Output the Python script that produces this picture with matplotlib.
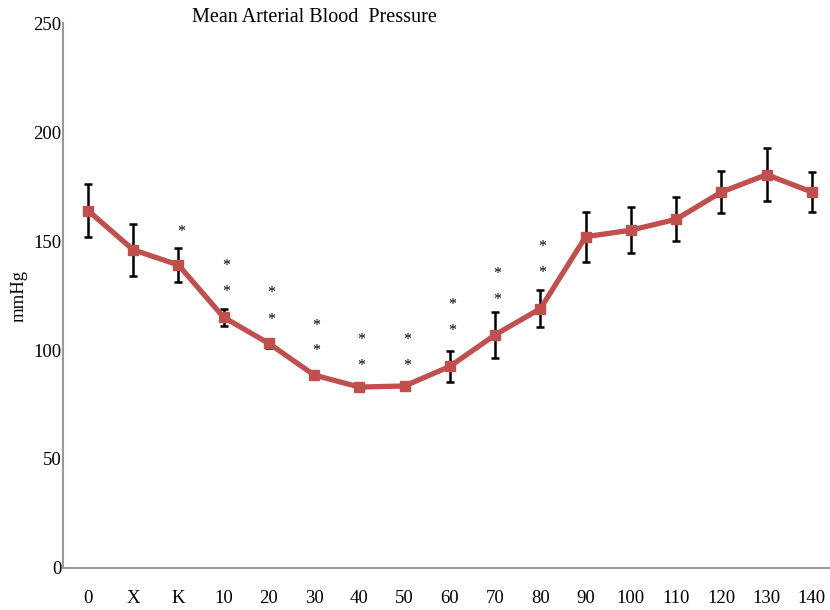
import matplotlib
matplotlib.use("Agg")
import matplotlib.pyplot as plt

# Data
labels = ["0", "X", "K", "10", "20", "30", "40", "50", "60", "70", "80",
          "90", "100", "110", "120", "130", "140"]
mean_bp = [164, 146, 139, 115, 103, 88.5, 83, 83.5, 92.5, 107, 119,
           152, 155, 160, 172.5, 180.5, 172.5]
err_bp = [12, 12, 8, 4, 2, 2, 2, 1.5, 7, 10.5, 8.5,
          11.5, 10.5, 10, 9.5, 12, 9]

# Significance stars: (category index, y value)
star_idx = [2, 3, 3, 4, 4, 5, 5, 6, 6, 7, 7, 8, 8, 9, 9, 10, 10]
star_y = [155, 139.5, 127.5, 127, 115, 112, 100.5, 105.5, 93.5, 105.5, 93.5,
          121.5, 109.5, 136, 124, 148.5, 136.5]

plt.rcParams['font.family'] = ['Liberation Serif', 'DejaVu Serif']

fig = plt.figure(figsize=(8.3, 6.1), dpi=100)
ax = fig.add_axes([0.076, 0.069, 0.924, 0.893])

x = list(range(len(labels)))
ax.errorbar(x, mean_bp, yerr=err_bp, fmt='none', ecolor='black',
            elinewidth=1.8, capsize=3, capthick=1.8, zorder=2)
ax.plot(x, mean_bp, color='#C0504D', lw=3.8, marker='s', markersize=7.5,
        zorder=3)

for i, y in zip(star_idx, star_y):
    ax.text(i + 0.05, y - 1, "*", ha='center', va='center', fontsize=11.5,
            color='black')

ax.set_xlim(-0.55, 16.4)
ax.set_ylim(0, 250)
ax.set_xticks(x)
ax.set_xticklabels(labels)
ax.set_yticks([0, 50, 100, 150, 200, 250])
ax.tick_params(axis='both', length=0, labelsize=13.5)
ax.tick_params(axis='x', pad=16)
ax.tick_params(axis='y', pad=1)

for side in ['top', 'right']:
    ax.spines[side].set_visible(False)
for side in ['left', 'bottom']:
    ax.spines[side].set_color('#999999')
    ax.spines[side].set_linewidth(1.5)

ax.set_ylabel("mmHg", fontsize=13.5, labelpad=4)
fig.text(314 / 830, 1 - 17 / 610, "Mean Arterial Blood  Pressure",
         ha='center', va='center', fontsize=14.5)

fig.savefig("out.png", dpi=100)
